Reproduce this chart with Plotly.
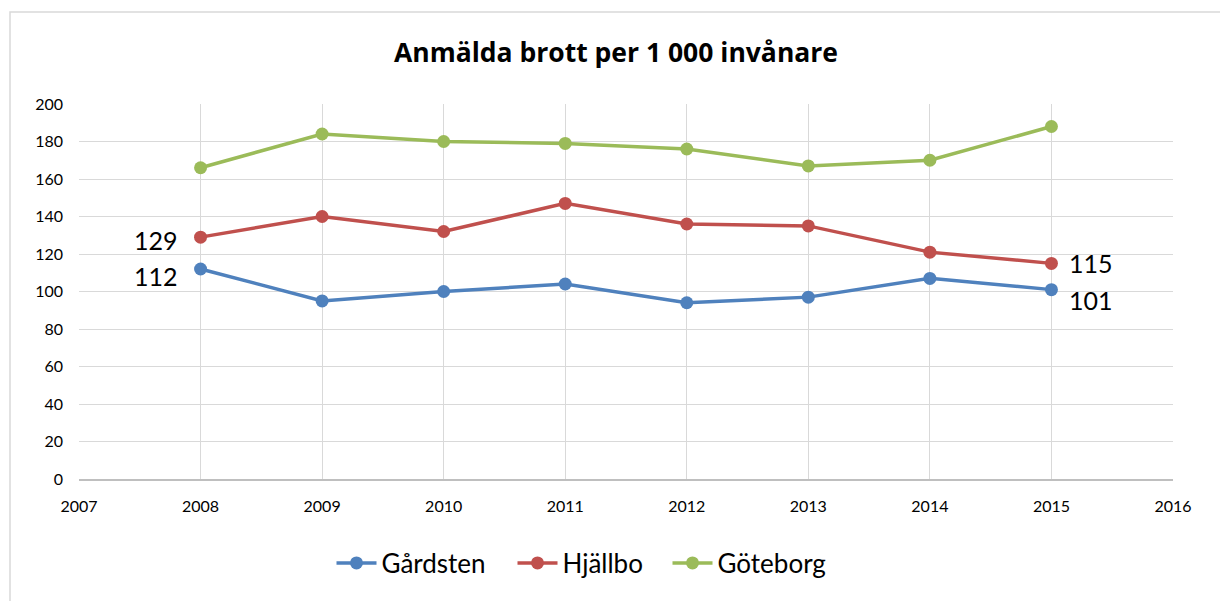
import plotly.graph_objects as go

years = [2008, 2009, 2010, 2011, 2012, 2013, 2014, 2015]
gardsten = [112, 95, 100, 104, 94, 97, 107, 101]
hjallbo = [129, 140, 132, 147, 136, 135, 121, 115]
goteborg = [166, 184, 180, 179, 176, 167, 170, 188]
series_names = ["Gårdsten", "Hjällbo", "Göteborg"]
colors = ["#4f81bd", "#c0504d", "#9bbb59"]
x_ticks = list(range(2007, 2017))
y_ticks = list(range(0, 201, 20))

FONT = "Lato, 'Open Sans', sans-serif"
TITLE_FONT = "'Open Sans', Lato, sans-serif"

series_vals = [gardsten, hjallbo, goteborg]
legend_widths = [126, 100, 110]

fig = go.Figure()
for name, vals, col, lw in zip(series_names, series_vals, colors, legend_widths):
    fig.add_trace(go.Scatter(
        x=years, y=vals, name=name, mode="lines+markers",
        line=dict(color=col, width=3.5),
        marker=dict(color=col, size=13),
        legendwidth=lw,
        cliponaxis=False,
    ))

# data labels on first and last points of Gårdsten and Hjällbo
label_series = [(gardsten, -7, -10), (hjallbo, -3, 0)]
for vals, dy_first, dy_last in label_series:
    fig.add_annotation(x=years[0], y=vals[0], text=str(vals[0]), showarrow=False,
                       xanchor="right", yanchor="middle", xshift=-21, yshift=dy_first,
                       font=dict(size=25, family=FONT, color="#000000"))
    fig.add_annotation(x=years[-1], y=vals[-1], text=str(vals[-1]), showarrow=False,
                       xanchor="left", yanchor="middle", xshift=16, yshift=dy_last,
                       font=dict(size=25, family=FONT, color="#000000"))

L, R, T, B = 79, 47, 104, 122
W, H = 1220, 601
pw, ph = W - L - R, H - T - B

fig.update_layout(
    width=W, height=H,
    margin=dict(l=L, r=R, t=T, b=B),
    paper_bgcolor="white", plot_bgcolor="white",
    font=dict(family=FONT, color="#000000"),
    title=dict(text="<b>Anmälda brott per 1 000 invånare</b>", x=616 / W, xanchor="center",
               y=1 - 53 / H, yanchor="middle", font=dict(size=26.5, family=TITLE_FONT, color="#000000")),
    xaxis=dict(range=[2007, 2016], tickvals=x_ticks, ticktext=[str(t) for t in x_ticks],
               showgrid=True, gridcolor="#d9d9d9", gridwidth=1,
               showline=True, linecolor="#bfbfbf", linewidth=2,
               zeroline=False, ticks="", tickfont=dict(size=16), ticklabelstandoff=12),
    yaxis=dict(range=[0, 200], tickvals=y_ticks, showgrid=True, gridcolor="#d9d9d9", gridwidth=1,
               showline=False, zeroline=False, ticks="", tickfont=dict(size=16),
               ticklabelstandoff=15),
    legend=dict(orientation="h", x=(582 - L) / pw, xanchor="center", y=(479 - 563) / ph,
                yanchor="middle", font=dict(size=26, family=FONT), itemwidth=40,
                traceorder="normal"),
    showlegend=True,
)

# outer chart frame
fig.add_shape(type="rect", xref="paper", yref="paper",
              x0=(10 - L) / pw, x1=(W + 5 - L) / pw, y0=(ph + T - (H + 5)) / ph, y1=(ph + T - 12) / ph,
              line=dict(color="#d9d9d9", width=1.5), fillcolor="rgba(0,0,0,0)", layer="below")

fig.write_html("out.html", config={"displayModeBar": False},
               post_script="document.body.style.margin='0';document.body.style.padding='0';")
